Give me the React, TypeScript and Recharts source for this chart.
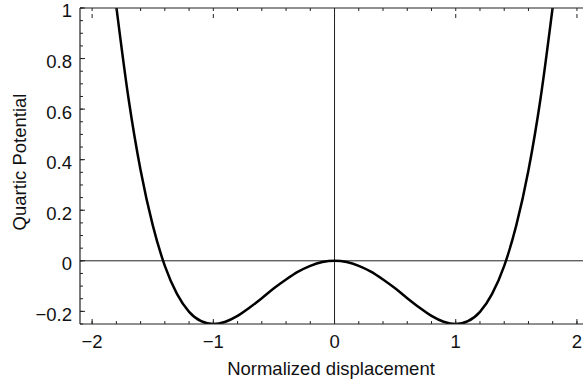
import { Label, Line, LineChart, ReferenceLine, XAxis, YAxis } from 'recharts';

// sampled double-well curve
const displacement = [
  -1.8, -1.7, -1.6, -1.5, -1.4, -1.3, -1.2, -1.1, -1.0, -0.9, -0.8, -0.7, -0.6, -0.5, -0.4, -0.3, -0.2, -0.1,
  0, 0.1, 0.2, 0.3, 0.4, 0.5, 0.6, 0.7, 0.8, 0.9, 1.0, 1.1, 1.2, 1.3, 1.4, 1.5, 1.6, 1.7, 1.8,
];
const potential = [
  1.004, 0.643, 0.358, 0.141, -0.02, -0.131, -0.202, -0.239, -0.25, -0.241, -0.218, -0.185, -0.148, -0.109, -0.074,
  -0.043, -0.02, -0.005, 0, -0.005, -0.02, -0.043, -0.074, -0.109, -0.148, -0.185, -0.218, -0.241, -0.25, -0.239,
  -0.202, -0.131, -0.02, 0.141, 0.358, 0.643, 1.004,
];

const xMajor = [-2, -1, 0, 1, 2];
const xMinor = [-1.8, -1.6, -1.4, -1.2, -0.8, -0.6, -0.4, -0.2, 0.2, 0.4, 0.6, 0.8, 1.2, 1.4, 1.6, 1.8];
const yMajor = [-0.2, 0, 0.2, 0.4, 0.6, 0.8, 1];
const yMinor = [
  -0.25, -0.15, -0.1, -0.05, 0.05, 0.1, 0.15, 0.25, 0.3, 0.35, 0.45, 0.5, 0.55, 0.65, 0.7, 0.75, 0.85, 0.9, 0.95,
];

const data = displacement.map((x, i) => ({ x, v: potential[i] }));

const FONT = '"Liberation Sans", Arial, Helvetica, sans-serif';
const INK = '#222';
const MINOR = 3; // inward tick length
const MAJOR = 5;
const X_MARGIN = 23;
const Y_MARGIN = 10;

const fmt = (v: number) => (v < 0 ? `\u2212${Math.abs(v)}` : String(v));

// bottom tick: longer inward mark + label on majors only
const XTick = (props: any) => {
  const { x, y, payload } = props;
  if (!xMajor.includes(payload.value)) return <g />;
  const axisY = y - X_MARGIN + MINOR;
  return (
    <g>
      <line x1={x} x2={x} y1={axisY} y2={axisY - MAJOR} stroke={INK} />
      <text x={x} y={axisY + 18} dy="0.35em" textAnchor="middle" fontSize={18.5} fontFamily={FONT} fill="#111">
        {fmt(payload.value)}
      </text>
    </g>
  );
};

const TopTick = (props: any) => {
  const { x, y, payload } = props;
  if (!xMajor.includes(payload.value)) return <g />;
  const axisY = y + MINOR;
  return <line x1={x} x2={x} y1={axisY} y2={axisY + MAJOR - 1} stroke={INK} />;
};

const YTick = (props: any) => {
  const { x, y, payload } = props;
  if (!yMajor.includes(payload.value)) return <g />;
  const axisX = x + Y_MARGIN - MINOR;
  return (
    <g>
      <line x1={axisX} x2={axisX + MAJOR} y1={y} y2={y} stroke={INK} />
      <text x={axisX - 8} y={y + 3} dy="0.35em" textAnchor="end" fontSize={18.5} fontFamily={FONT} fill="#111">
        {fmt(payload.value)}
      </text>
    </g>
  );
};

export default function App() {
  return (
    <div style={{ position: 'absolute', left: 0, top: 0, background: '#fff' }}>
      <LineChart width={583} height={385} data={data} margin={{ top: 7, right: 0, bottom: 60, left: 79 }}>
        <XAxis
          xAxisId="x"
          dataKey="x"
          type="number"
          domain={[-2.1, 2.05]}
          allowDataOverflow
          ticks={[...xMajor, ...xMinor]}
          interval={0}
          height={1}
          tickSize={-MINOR}
          tickMargin={X_MARGIN}
          tick={XTick}
          axisLine={{ stroke: INK, strokeWidth: 1.2 }}
          tickLine={{ stroke: INK }}
        >
          <Label
            content={() => (
              <text x={331} y={375} textAnchor="middle" fontSize={18.5} fontFamily={FONT} fill="#111">
                Normalized displacement
              </text>
            )}
          />
        </XAxis>
        {/* top frame with small ticks */}
        <XAxis
          xAxisId="xt"
          orientation="top"
          dataKey="x"
          type="number"
          domain={[-2.1, 2.05]}
          allowDataOverflow
          ticks={[...xMajor, ...xMinor]}
          interval={0}
          height={1}
          tickSize={-MINOR}
          tickMargin={0}
          tick={TopTick}
          axisLine={{ stroke: INK, strokeWidth: 1.2 }}
          tickLine={{ stroke: INK }}
        />
        <YAxis
          yAxisId="y"
          type="number"
          domain={[-0.25, 1]}
          allowDataOverflow
          ticks={[...yMajor, ...yMinor]}
          interval={0}
          width={1}
          tickSize={-MINOR}
          tickMargin={Y_MARGIN}
          tick={YTick}
          axisLine={{ stroke: INK, strokeWidth: 1.2 }}
          tickLine={{ stroke: INK }}
        >
          <Label
            content={() => (
              <text
                x={20}
                y={162}
                dy="0.35em"
                transform="rotate(-90, 20, 162)"
                textAnchor="middle"
                fontSize={18.5}
                fontFamily={FONT}
                fill="#111"
              >
                Quartic Potential
              </text>
            )}
          />
        </YAxis>
        <ReferenceLine xAxisId="x" yAxisId="y" y={0} stroke={INK} strokeWidth={1} />
        <ReferenceLine xAxisId="x" yAxisId="y" x={0} stroke={INK} strokeWidth={1} />
        <Line
          xAxisId="x"
          yAxisId="y"
          dataKey="v"
          type="monotone"
          stroke="#000"
          strokeWidth={2.5}
          dot={false}
          isAnimationActive={false}
        />
      </LineChart>
    </div>
  );
}
